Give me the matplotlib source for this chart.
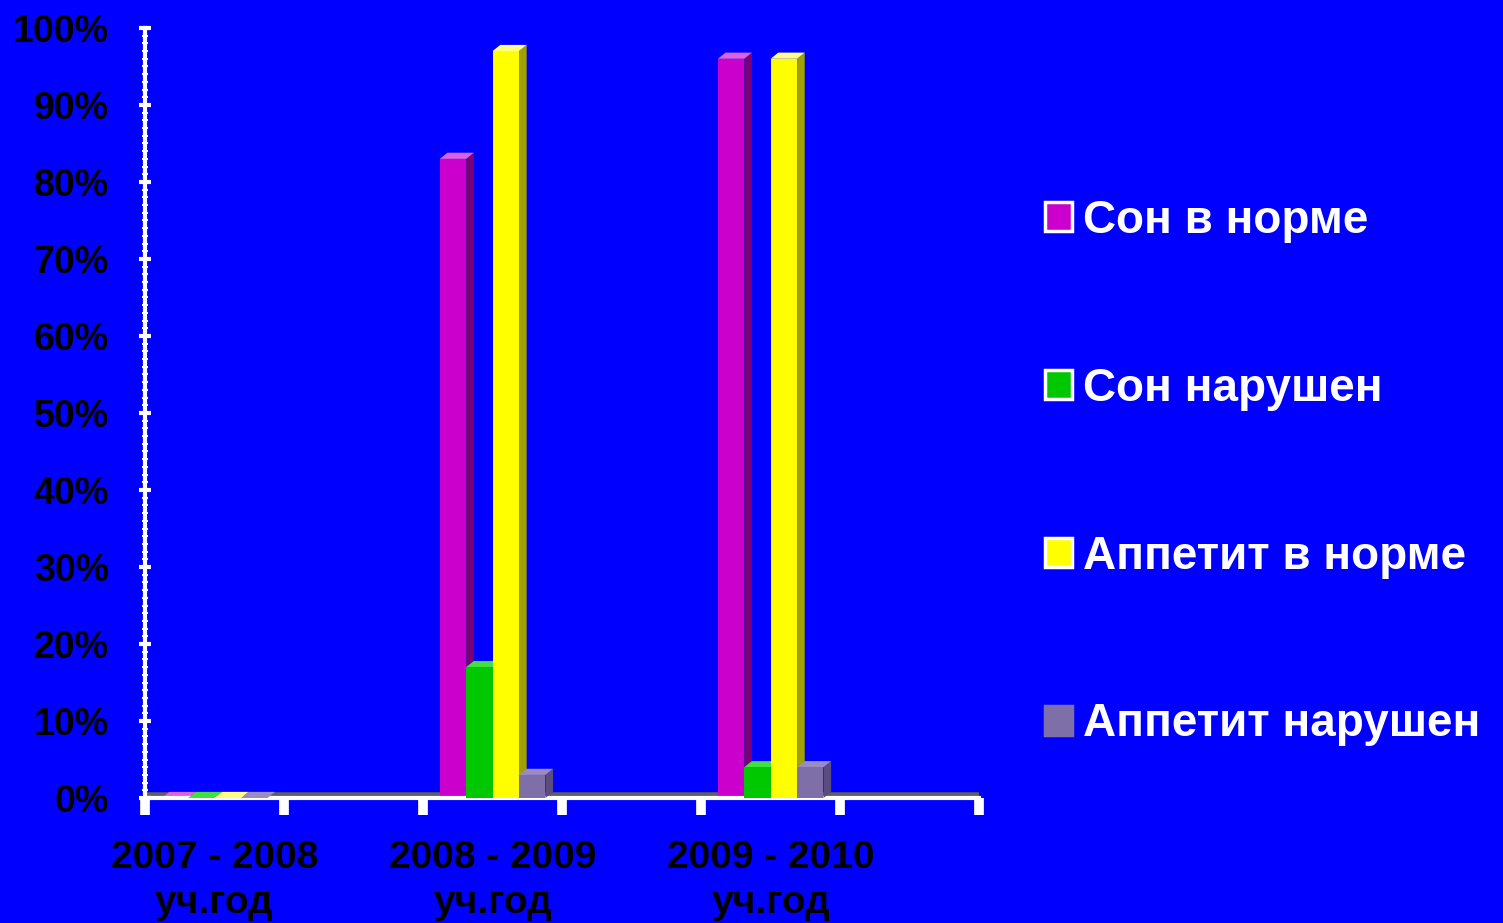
import numpy as np
import matplotlib.pyplot as plt
from matplotlib.patches import Polygon, Patch

# data
years = ["2007 - 2008\nуч.год", "2008 - 2009\nуч.год", "2009 - 2010\nуч.год"]
series = ["Сон в норме", "Сон нарушен", "Аппетит в норме", "Аппетит нарушен"]
son_norm = [0, 83, 96]
son_bad = [0, 17, 4]
app_norm = [0, 97, 96]
app_bad = [0, 3, 4]

front = ["#cc00cc", "#00c800", "#ffff00", "#7f6fa8"]
side = ["#7a007a", "#007000", "#a0a000", "#5a4c80"]
top = ["#e060e0", "#40e040", "#ffff80", "#9a8cc0"]

plt.rcParams['font.family'] = ['Liberation Sans', 'DejaVu Sans']

fig = plt.figure(figsize=(15.03, 9.23), dpi=100)
fig.patch.set_facecolor("#0000ff")
ax = fig.add_axes([0.0965, 0.1354, 0.555, 0.8343])
ax.set_facecolor("#0000ff")

# each school year sits in every second slot, as on the slide
pos = np.array([0, 2, 4])
w = 0.19
dx, dy = 0.055, 0.8
values = [son_norm, son_bad, app_norm, app_bad]

ax.axhline(0.35, color="#606060", lw=4, zorder=1)

for i, vals in enumerate(values):
    xs = pos - 2 * w + i * w
    for x, h in zip(xs, vals):
        ax.add_patch(Polygon([(x + w, 0), (x + w + dx, dy), (x + w + dx, h + dy), (x + w, h)],
                             closed=True, fc=side[i], ec="none", zorder=2 + i))
        ax.add_patch(Polygon([(x, h), (x + dx, h + dy), (x + w + dx, h + dy), (x + w, h)],
                             closed=True, fc=top[i], ec="none", zorder=2 + i))
    ax.bar(xs, vals, width=w, align="edge", color=front[i], zorder=2 + i)

ax.set_xlim(-0.5, 5.5)
ax.set_ylim(0, 100)

ax.set_yticks(np.arange(0, 101, 10))
ax.set_yticklabels([f"{v}%" for v in range(0, 101, 10)])
ax.set_yticks(np.arange(0, 101, 1), minor=True)
ax.tick_params(axis="y", which="major", colors="white", width=3, length=8,
               direction="inout", labelsize=27, labelcolor="black", pad=22)
ax.tick_params(axis="y", which="minor", colors="white", width=1.5, length=5,
               direction="inout")
for lab in ax.get_yticklabels():
    lab.set_fontweight("bold")

ax.set_xticks(np.arange(-0.5, 5.6, 1))
ax.set_xticklabels([])
ax.set_xticks(pos, minor=True)
ax.set_xticklabels(years, minor=True)
ax.tick_params(axis="x", which="major", colors="white", width=7, length=12, direction="out")
ax.tick_params(axis="x", which="minor", length=0, labelsize=28, labelcolor="black", pad=30)
for lab in ax.get_xticklabels(minor=True):
    lab.set_fontweight("bold")
    lab.set_linespacing(1.35)

for s in ["top", "right"]:
    ax.spines[s].set_visible(False)
ax.spines["left"].set_color("white")
ax.spines["left"].set_linewidth(3)
ax.spines["bottom"].set_color("white")
ax.spines["bottom"].set_linewidth(3)

handles = [Patch(fc=front[i], ec="white" if i < 3 else front[i], lw=2.5) for i in range(4)]
leg = fig.legend(handles, series, loc="upper left", bbox_to_anchor=(0.6675, 0.829),
                 frameon=False, fontsize=33, labelspacing=2.7, handlelength=0.6,
                 handleheight=0.6, handletextpad=0.25)
for t in leg.get_texts():
    t.set_color("white")
    t.set_fontweight("bold")

fig.savefig("out.png", dpi=100, facecolor=fig.get_facecolor())
